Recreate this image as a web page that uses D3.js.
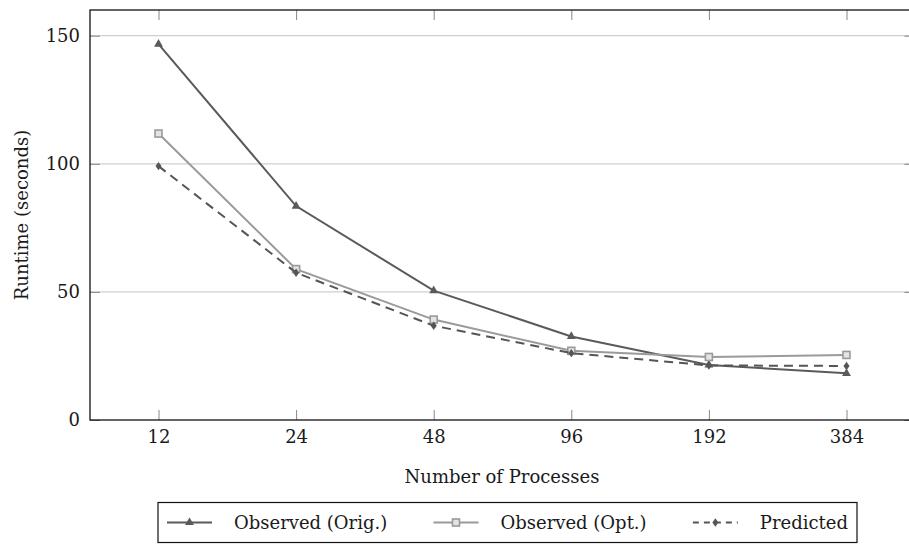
<!DOCTYPE html>
<html>
<head>
<meta charset="utf-8">
<script src="https://cdn.jsdelivr.net/npm/d3@7"></script>
<style>
  html, body { margin: 0; padding: 0; background: #fff; }
  svg { display: block; }
</style>
</head>
<body>
<svg id="chart" width="909" height="544"></svg>
<script>
// Runtime scaling data
const processes = ["12", "24", "48", "96", "192", "384"];
const observedOrig = [146.7, 83.5, 50.5, 32.6, 21.5, 18.2];
const observedOpt = [111.8, 58.9, 39.2, 27.0, 24.6, 25.4];
const predicted = [99.1, 57.5, 36.8, 26.1, 21.3, 21.1];
const yTicks = [0, 50, 100, 150];
const seriesNames = ["Observed (Orig.)", "Observed (Opt.)", "Predicted"];

const svg = d3.select("#chart");
const plotLeft = 90, plotRight = 914.5, plotTop = 10, plotBottom = 420;

const x = d3.scalePoint().domain(processes).range([158.5, 846.5]);
const y = d3.scaleLinear().domain([0, 150]).range([plotBottom, 35.7]);

const fontSize = 18;
const serif = "DejaVu Serif";
const textColor = "#1a1a1a";

// grid lines
svg.append("g").selectAll("line").data(yTicks.filter(d => d > 0)).join("line")
  .attr("x1", plotLeft).attr("x2", plotRight)
  .attr("y1", d => y(d)).attr("y2", d => y(d))
  .attr("stroke", "#cfcfcf").attr("stroke-width", 1.2);

// y axis (left) with inward ticks
const yAxis = svg.append("g").attr("transform", `translate(${plotLeft},0)`)
  .call(d3.axisLeft(y).tickValues(yTicks).tickSize(-10).tickPadding(10).tickFormat(d3.format("d")));
yAxis.attr("font-family", serif).attr("font-size", fontSize);
yAxis.select(".domain").remove();
yAxis.selectAll("line").attr("stroke", "#888");
yAxis.selectAll("text").attr("fill", textColor);

// y ticks on the right side
const yAxisR = svg.append("g").attr("transform", `translate(${plotRight},0)`)
  .call(d3.axisRight(y).tickValues(yTicks).tickSize(-10).tickFormat(""));
yAxisR.select(".domain").remove();
yAxisR.selectAll("line").attr("stroke", "#888");

// x axis (bottom) with inward ticks
const xAxis = svg.append("g").attr("transform", `translate(0,${plotBottom})`)
  .call(d3.axisBottom(x).tickSize(-10).tickPadding(10));
xAxis.attr("font-family", serif).attr("font-size", fontSize);
xAxis.select(".domain").remove();
xAxis.selectAll("line").attr("stroke", "#888");
xAxis.selectAll("text").attr("fill", textColor);

// x ticks on top
const xAxisT = svg.append("g").attr("transform", `translate(0,${plotTop})`)
  .call(d3.axisTop(x).tickSize(-10).tickFormat(""));
xAxisT.select(".domain").remove();
xAxisT.selectAll("line").attr("stroke", "#888");

// frame
svg.append("rect").attr("x", plotLeft).attr("y", plotTop)
  .attr("width", plotRight - plotLeft).attr("height", plotBottom - plotTop)
  .attr("fill", "none").attr("stroke", "#111").attr("stroke-width", 1.3);

// axis titles
svg.append("text").attr("x", 502).attr("y", 483)
  .attr("text-anchor", "middle").attr("font-family", serif).attr("font-size", fontSize)
  .attr("fill", textColor).text("Number of Processes");
svg.append("text").attr("transform", `translate(28,${(plotTop + plotBottom) / 2}) rotate(-90)`)
  .attr("text-anchor", "middle").attr("font-family", serif).attr("font-size", fontSize)
  .attr("fill", textColor).text("Runtime (seconds)");

// series
const series = [
  { name: seriesNames[0], values: observedOrig, color: "#5a5a5a", dash: null, marker: "triangle" },
  { name: seriesNames[1], values: observedOpt, color: "#9a9a9a", dash: null, marker: "square" },
  { name: seriesNames[2], values: predicted, color: "#555555", dash: "9,6", marker: "diamond" }
];

const line = d3.line().x((d, i) => x(processes[i])).y(d => y(d));

function drawMarker(g, kind, color, cx, cy) {
  if (kind === "triangle") {
    g.append("path").attr("d", d3.symbol(d3.symbolTriangle, 34)())
      .attr("transform", `translate(${cx},${cy})`).attr("fill", color);
  } else if (kind === "square") {
    g.append("rect").attr("x", cx - 3.5).attr("y", cy - 3.5).attr("width", 7).attr("height", 7)
      .attr("fill", "#e4e4e4").attr("stroke", color).attr("stroke-width", 1.6);
  } else {
    g.append("path").attr("d", "M0,-4.2L3,0L0,4.2L-3,0Z")
      .attr("transform", `translate(${cx},${cy})`).attr("fill", color);
  }
}

series.forEach(s => {
  const g = svg.append("g");
  g.append("path").datum(s.values).attr("d", line)
    .attr("fill", "none").attr("stroke", s.color).attr("stroke-width", 2)
    .attr("stroke-dasharray", s.dash);
  s.values.forEach((v, i) => drawMarker(g, s.marker, s.color, x(processes[i]), y(v)));
});

// legend: entries laid out left to right, spread evenly across the box
const legendLeft = 158, legendRight = 857, legendTop = 502.5, legendH = 40;
const pad = 9, sampleW = 45, sampleGap = 22;
const legend = svg.append("g");
legend.append("rect").attr("x", legendLeft).attr("y", legendTop)
  .attr("width", legendRight - legendLeft).attr("height", legendH)
  .attr("fill", "#fff").attr("stroke", "#111").attr("stroke-width", 1.2);

const ly = legendTop + legendH / 2;
const labels = series.map(s => legend.append("text").attr("y", ly + 6)
  .attr("font-family", serif).attr("font-size", fontSize)
  .attr("fill", textColor).text(s.name));
const widths = labels.map(t => t.node().getComputedTextLength());
const used = 2 * pad + series.length * (sampleW + sampleGap) + d3.sum(widths);
const colGap = (legendRight - legendLeft - used) / (series.length - 1);

let cursor = legendLeft + pad;
series.forEach((s, i) => {
  legend.append("line").attr("x1", cursor).attr("x2", cursor + sampleW)
    .attr("y1", ly).attr("y2", ly).attr("stroke", s.color).attr("stroke-width", 2)
    .attr("stroke-dasharray", s.dash ? "6,5" : null);
  drawMarker(legend, s.marker, s.color, cursor + sampleW / 2, ly);
  labels[i].attr("x", cursor + sampleW + sampleGap);
  cursor += sampleW + sampleGap + widths[i] + colGap;
});
</script>
</body>
</html>
